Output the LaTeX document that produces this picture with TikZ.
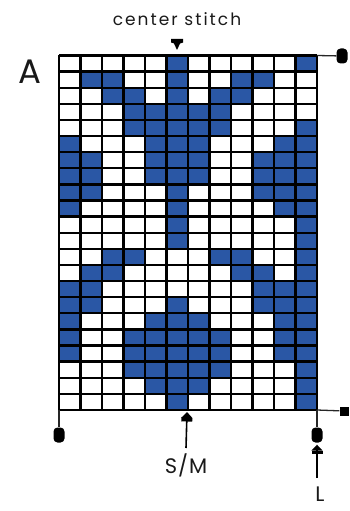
\documentclass[tikz,border=0pt]{standalone}
\usepackage{fontspec}
\setmainfont{Poppins}
\usetikzlibrary{arrows.meta}

\definecolor{chartblue}{RGB}{42,87,165}

\begin{document}
\begin{tikzpicture}[x=1pt,y=-1pt,
		cell0/.style={fill=white},
		cell1/.style={fill=chartblue},
		gridline/.style={line width=2.3pt,black},
		leader/.style={line width=1.3pt,black!85},
		blob/.style={fill=black,rounded corners=4pt,minimum width=11pt,minimum height=15pt,inner sep=0pt},
		endmark/.style={fill=black,minimum size=9pt,inner sep=0pt},
		pointer/.style={line width=1.6pt,-{Rectangle[length=3.5pt,width=11pt] Triangle[length=6pt,width=11pt]}},
		label style/.style={inner sep=0pt,text=black!90}
		]
		\useasboundingbox (0,0) rectangle (350,511);
		\def\cw{21.5}
		\def\ch{16.11}
		
		% Chart cells, top row first
		\foreach \row [count=\r] in {
			{0,0,0,0,0,1,0,0,0,0,0,1},
			{0,1,1,0,0,1,0,0,1,1,0,0},
			{0,0,1,1,0,1,0,1,1,0,0,0},
			{0,0,0,1,1,1,1,1,0,0,0,0},
			{0,0,0,1,1,1,1,1,0,0,0,1},
			{1,0,0,0,1,1,1,0,0,0,1,1},
			{1,1,0,0,1,1,1,0,0,1,1,1},
			{1,1,0,0,1,1,1,0,0,1,1,1},
			{1,1,0,0,0,1,0,0,0,1,1,1},
			{1,0,0,0,0,1,0,0,0,0,1,1},
			{0,0,0,0,0,1,0,0,0,0,0,1},
			{0,0,0,0,0,1,0,0,0,0,0,1},
			{0,0,1,1,0,0,0,1,1,0,0,1},
			{0,1,1,0,0,0,0,0,1,1,0,1},
			{1,1,0,0,0,0,0,0,0,1,1,1},
			{1,1,0,0,0,1,0,0,0,1,1,1},
			{1,0,0,0,1,1,1,0,0,0,1,1},
			{1,0,0,1,1,1,1,1,0,0,1,1},
			{1,0,0,1,1,1,1,1,0,0,1,1},
			{0,0,0,1,1,1,1,1,0,0,0,1},
			{0,0,0,0,1,1,1,0,0,0,0,1},
			{0,0,0,0,0,1,0,0,0,0,0,1}}
		\foreach \c [count=\k] in \row
		\path[cell\c] ({59+(\k-1)*\cw},{55.5+(\r-1)*\ch}) rectangle ++(\cw,\ch);
		
		% Grid lines
		\foreach \k in {0,...,12}
		\draw[gridline] ({59+\k*\cw},55.5) -- ({59+\k*\cw},410);
		\foreach \r in {0,...,22}
		\draw[gridline] (59,{55.5+\r*\ch}) -- (317,{55.5+\r*\ch});
		
		\coordinate (topright) at (317,55.5);
		\coordinate (botright) at (317,410);
		\coordinate (botleft) at (59,410);
		\coordinate (smtip) at (187,412);
		
		% Center stitch marker
		\fill (171,39) -- (183,39) -- (183,42.5) -- (180,43.5) -- (177,50) -- (174,43.5) -- (171,42.5) -- cycle;
		\node[label style,font=\fontsize{17}{20}\selectfont\addfontfeatures{LetterSpace=12}] at (177,26) [anchor=base] (stitchlabel) {center stitch};
		
		% Chart letter
		\node[label style,font=\fontsize{34}{40}\selectfont,anchor=base] (lettera) at (30,83) {A};
		
		% Repeat ends
		\node[blob] (topend) at (342,56) {};
		\draw[leader] (topright) -- (topend);
		\node[endmark] (botend) at (344,411) {};
		\draw[leader] (botright) -- (botend);
		\node[blob] (leftend) at (59,435) {};
		\draw[leader] (botleft) -- (leftend);
		\node[blob] (rightend) at (317,435) {};
		\draw[leader] (botright) -- (rightend);
		
		% Size markers
		\node[label style,font=\fontsize{21}{24}\selectfont\addfontfeatures{LetterSpace=5},anchor=base] (smlabel) at (186,473) {S/M};
		\draw[pointer] ([yshift=25pt]smlabel.base) -- (smtip);
		\node[label style,font=\fontsize{21}{24}\selectfont,anchor=base] (llabel) at (320,501) {L};
		\draw[pointer] ([xshift=-3pt,yshift=23pt]llabel.base) -- ([yshift=-2pt]rightend.south);
		
\end{tikzpicture}
\end{document}
